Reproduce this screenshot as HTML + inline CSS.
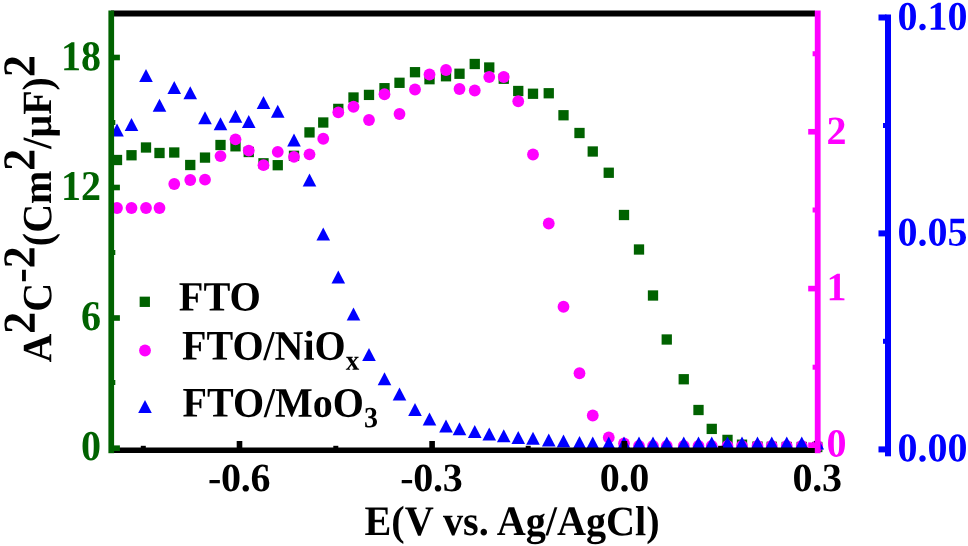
<!DOCTYPE html>
<html><head><meta charset="utf-8"><title>Mott-Schottky</title>
<style>
html,body{margin:0;padding:0;background:#fff;}
body{width:968px;height:546px;overflow:hidden;}
svg{display:block;font-family:"Liberation Serif",serif;font-weight:bold;}
svg{will-change:transform;}
text{text-rendering:geometricPrecision;}
</style></head><body>
<svg width="968" height="546" viewBox="0 0 968 546">
<rect width="968" height="546" fill="#fff"/>
<g fill="#006200"><rect x="111.85" y="154.85" width="10.3" height="10.3"/><rect x="126.35" y="150.10" width="10.3" height="10.3"/><rect x="140.85" y="142.35" width="10.3" height="10.3"/><rect x="154.35" y="147.85" width="10.3" height="10.3"/><rect x="169.10" y="147.35" width="10.3" height="10.3"/><rect x="185.10" y="159.85" width="10.3" height="10.3"/><rect x="199.85" y="152.45" width="10.3" height="10.3"/><rect x="215.35" y="139.85" width="10.3" height="10.3"/><rect x="230.35" y="141.15" width="10.3" height="10.3"/><rect x="243.60" y="146.85" width="10.3" height="10.3"/><rect x="258.35" y="158.15" width="10.3" height="10.3"/><rect x="272.60" y="160.05" width="10.3" height="10.3"/><rect x="288.85" y="150.65" width="10.3" height="10.3"/><rect x="304.35" y="127.25" width="10.3" height="10.3"/><rect x="318.10" y="117.35" width="10.3" height="10.3"/><rect x="333.15" y="103.75" width="10.3" height="10.3"/><rect x="348.35" y="92.35" width="10.3" height="10.3"/><rect x="363.85" y="89.75" width="10.3" height="10.3"/><rect x="379.35" y="83.05" width="10.3" height="10.3"/><rect x="394.35" y="77.65" width="10.3" height="10.3"/><rect x="409.85" y="67.05" width="10.3" height="10.3"/><rect x="424.35" y="74.05" width="10.3" height="10.3"/><rect x="440.85" y="71.10" width="10.3" height="10.3"/><rect x="454.35" y="68.60" width="10.3" height="10.3"/><rect x="469.60" y="58.85" width="10.3" height="10.3"/><rect x="484.10" y="62.35" width="10.3" height="10.3"/><rect x="498.60" y="73.60" width="10.3" height="10.3"/><rect x="513.10" y="85.85" width="10.3" height="10.3"/><rect x="527.85" y="88.60" width="10.3" height="10.3"/><rect x="543.60" y="88.10" width="10.3" height="10.3"/><rect x="558.35" y="110.10" width="10.3" height="10.3"/><rect x="574.35" y="127.85" width="10.3" height="10.3"/><rect x="587.60" y="146.35" width="10.3" height="10.3"/><rect x="603.60" y="167.60" width="10.3" height="10.3"/><rect x="618.85" y="209.85" width="10.3" height="10.3"/><rect x="633.85" y="244.35" width="10.3" height="10.3"/><rect x="647.85" y="290.35" width="10.3" height="10.3"/><rect x="661.60" y="334.35" width="10.3" height="10.3"/><rect x="678.60" y="374.10" width="10.3" height="10.3"/><rect x="693.35" y="404.85" width="10.3" height="10.3"/><rect x="706.60" y="423.75" width="10.3" height="10.3"/><rect x="722.35" y="434.75" width="10.3" height="10.3"/><rect x="736.85" y="439.55" width="10.3" height="10.3"/><rect x="752.35" y="441.45" width="10.3" height="10.3"/><rect x="766.60" y="441.65" width="10.3" height="10.3"/><rect x="781.60" y="441.85" width="10.3" height="10.3"/><rect x="796.60" y="441.85" width="10.3" height="10.3"/><rect x="812.10" y="441.85" width="10.3" height="10.3"/></g>
<g fill="#ff00ff"><circle cx="117" cy="208" r="5.9"/><circle cx="131.5" cy="208" r="5.9"/><circle cx="146" cy="208" r="5.9"/><circle cx="159.5" cy="208" r="5.9"/><circle cx="174.25" cy="184" r="5.9"/><circle cx="190.25" cy="180" r="5.9"/><circle cx="205" cy="179.7" r="5.9"/><circle cx="220.5" cy="156.1" r="5.9"/><circle cx="235.5" cy="139.3" r="5.9"/><circle cx="248.75" cy="150.6" r="5.9"/><circle cx="263.5" cy="165.2" r="5.9"/><circle cx="277.75" cy="151.8" r="5.9"/><circle cx="294" cy="156.8" r="5.9"/><circle cx="309.5" cy="154.3" r="5.9"/><circle cx="323.25" cy="138.75" r="5.9"/><circle cx="338.3" cy="112.3" r="5.9"/><circle cx="353.5" cy="106.75" r="5.9"/><circle cx="369" cy="120" r="5.9"/><circle cx="384.5" cy="94.25" r="5.9"/><circle cx="399.5" cy="114" r="5.9"/><circle cx="415" cy="89.5" r="5.9"/><circle cx="429.5" cy="74.5" r="5.9"/><circle cx="446" cy="70" r="5.9"/><circle cx="459.5" cy="89" r="5.9"/><circle cx="474.75" cy="90.5" r="5.9"/><circle cx="489.25" cy="77" r="5.9"/><circle cx="503.75" cy="77" r="5.9"/><circle cx="518.25" cy="101.25" r="5.9"/><circle cx="533" cy="154.5" r="5.9"/><circle cx="548.75" cy="223.5" r="5.9"/><circle cx="563.5" cy="306.75" r="5.9"/><circle cx="579.5" cy="373.25" r="5.9"/><circle cx="592.75" cy="415.5" r="5.9"/><circle cx="608.75" cy="437.5" r="5.9"/><circle cx="624" cy="443.5" r="5.9"/><circle cx="639" cy="446" r="5.9"/><circle cx="653" cy="446" r="5.9"/><circle cx="666.75" cy="446" r="5.9"/><circle cx="683.75" cy="446" r="5.9"/><circle cx="698.5" cy="446" r="5.9"/><circle cx="711.75" cy="446" r="5.9"/><circle cx="727.5" cy="446" r="5.9"/><circle cx="742" cy="446" r="5.9"/><circle cx="757.5" cy="446" r="5.9"/><circle cx="771.75" cy="446" r="5.9"/><circle cx="786.75" cy="446" r="5.9"/><circle cx="801.75" cy="446" r="5.9"/><circle cx="817.25" cy="446" r="5.9"/></g>
<g fill="#0000ff"><path d="M110.20 136.60L123.80 136.60L117.00 123.60Z"/><path d="M124.70 131.10L138.30 131.10L131.50 118.10Z"/><path d="M139.20 82.10L152.80 82.10L146.00 69.10Z"/><path d="M152.70 111.85L166.30 111.85L159.50 98.85Z"/><path d="M167.45 94.10L181.05 94.10L174.25 81.10Z"/><path d="M183.45 99.35L197.05 99.35L190.25 86.35Z"/><path d="M198.20 124.35L211.80 124.35L205.00 111.35Z"/><path d="M213.70 130.35L227.30 130.35L220.50 117.35Z"/><path d="M228.70 122.85L242.30 122.85L235.50 109.85Z"/><path d="M241.95 128.10L255.55 128.10L248.75 115.10Z"/><path d="M256.70 109.10L270.30 109.10L263.50 96.10Z"/><path d="M270.95 117.85L284.55 117.85L277.75 104.85Z"/><path d="M287.20 146.40L300.80 146.40L294.00 133.40Z"/><path d="M302.70 186.60L316.30 186.60L309.50 173.60Z"/><path d="M316.45 240.40L330.05 240.40L323.25 227.40Z"/><path d="M331.50 283.60L345.10 283.60L338.30 270.60Z"/><path d="M346.70 320.60L360.30 320.60L353.50 307.60Z"/><path d="M362.20 361.10L375.80 361.10L369.00 348.10Z"/><path d="M377.70 385.35L391.30 385.35L384.50 372.35Z"/><path d="M392.70 400.60L406.30 400.60L399.50 387.60Z"/><path d="M408.20 416.10L421.80 416.10L415.00 403.10Z"/><path d="M422.70 425.60L436.30 425.60L429.50 412.60Z"/><path d="M439.20 432.60L452.80 432.60L446.00 419.60Z"/><path d="M452.70 435.35L466.30 435.35L459.50 422.35Z"/><path d="M467.95 438.10L481.55 438.10L474.75 425.10Z"/><path d="M482.45 440.60L496.05 440.60L489.25 427.60Z"/><path d="M496.95 442.35L510.55 442.35L503.75 429.35Z"/><path d="M511.45 444.10L525.05 444.10L518.25 431.10Z"/><path d="M526.20 444.85L539.80 444.85L533.00 431.85Z"/><path d="M541.95 446.60L555.55 446.60L548.75 433.60Z"/><path d="M556.70 447.60L570.30 447.60L563.50 434.60Z"/><path d="M572.70 449.10L586.30 449.10L579.50 436.10Z"/><path d="M585.95 449.60L599.55 449.60L592.75 436.60Z"/><path d="M601.95 449.60L615.55 449.60L608.75 436.60Z"/><path d="M617.20 449.60L630.80 449.60L624.00 436.60Z"/><path d="M632.20 449.60L645.80 449.60L639.00 436.60Z"/><path d="M646.20 449.60L659.80 449.60L653.00 436.60Z"/><path d="M659.95 449.60L673.55 449.60L666.75 436.60Z"/><path d="M676.95 449.60L690.55 449.60L683.75 436.60Z"/><path d="M691.70 449.60L705.30 449.60L698.50 436.60Z"/><path d="M704.95 449.60L718.55 449.60L711.75 436.60Z"/><path d="M720.70 449.60L734.30 449.60L727.50 436.60Z"/><path d="M735.20 449.60L748.80 449.60L742.00 436.60Z"/><path d="M750.70 449.60L764.30 449.60L757.50 436.60Z"/><path d="M764.95 449.60L778.55 449.60L771.75 436.60Z"/><path d="M779.95 449.60L793.55 449.60L786.75 436.60Z"/><path d="M794.95 449.60L808.55 449.60L801.75 436.60Z"/><path d="M810.45 449.60L824.05 449.60L817.25 436.60Z"/></g>
<g fill="#006200"><rect x="139.65" y="296.65" width="10.3" height="10.3"/></g><g fill="#ff00ff"><circle cx="145" cy="350.5" r="5.9"/></g><g fill="#0000ff"><path d="M138.20 413.10L151.80 413.10L145.00 400.10Z"/></g>
<g fill="#000">
<text transform="translate(178.8,310.5) rotate(0.03) scale(1,1.035)" font-size="40.3">FTO</text>
<text transform="translate(182,359.6) rotate(0.03) scale(1,1.05)" font-size="40">FTO/NiO<tspan font-size="27" dy="9.5">x</tspan></text>
<text transform="translate(182.5,416.6) rotate(0.03) scale(1,1.05)" font-size="40">FTO/MoO<tspan font-size="28" dy="10">3</tspan></text>
</g>
<g fill="#000">
<rect x="111" y="10.5" width="704" height="6"/>
<rect x="111" y="447.5" width="709" height="5.5"/>
<rect x="236.7" y="441" width="5.6" height="7"/>
<rect x="429.3" y="441" width="5.6" height="7"/>
<rect x="621.6" y="441" width="5.6" height="7"/>
<rect x="814.2" y="441" width="5.6" height="7"/>
<rect x="140.8" y="445.8" width="5" height="2.5"/>
<rect x="333.3" y="445.8" width="5" height="2.5"/>
<rect x="525.7" y="445.8" width="5" height="2.5"/>
<rect x="718.1" y="445.8" width="5" height="2.5"/>
</g>
<g fill="#006200">
<rect x="108.4" y="10.5" width="5.7" height="442.7"/>
<rect x="111" y="54.7" width="8.9" height="5.6"/>
<rect x="111" y="184.7" width="8.9" height="5.6"/>
<rect x="111" y="315.2" width="8.9" height="5.6"/>
<rect x="111" y="445.4" width="8.9" height="5.6"/>
<rect x="111" y="120.0" width="4.3" height="5"/>
<rect x="111" y="250.0" width="4.3" height="5"/>
<rect x="111" y="380.0" width="4.3" height="5"/>
</g>
<g fill="#ff00ff">
<rect x="814.8" y="10.5" width="5.8" height="442.7"/>
<rect x="808.2" y="128.95" width="8" height="5.6"/>
<rect x="808.2" y="285.8" width="8" height="5.6"/>
<rect x="808.2" y="442.4" width="8" height="5.6"/>
<rect x="812.6" y="51.25" width="4" height="5"/>
<rect x="812.6" y="207.5" width="4" height="5"/>
<rect x="812.6" y="364.7" width="4" height="5"/>
</g>
<g fill="#0000ff">
<rect x="885" y="14.5" width="6" height="441.8"/>
<rect x="878.5" y="14.5" width="8" height="6"/>
<rect x="878.5" y="230.4" width="8" height="6"/>
<rect x="878.5" y="446.4" width="8" height="6"/>
<rect x="883" y="123.0" width="4" height="5"/>
<rect x="883" y="338.8" width="4" height="5"/>
</g>
<g fill="#006200">
<text transform="translate(101,70.3) rotate(0.03) scale(1,1.06)" font-size="40" text-anchor="end">18</text>
<text transform="translate(101,200.1) rotate(0.03) scale(1,1.06)" font-size="40" text-anchor="end">12</text>
<text transform="translate(101,330.0) rotate(0.03) scale(1,1.06)" font-size="40" text-anchor="end">6</text>
<text transform="translate(101,460.0) rotate(0.03) scale(1,1.06)" font-size="40" text-anchor="end">0</text>
</g>
<g fill="#000">
<text transform="translate(239.2,490.9) rotate(0.03) scale(1,1.0)" font-size="40" text-anchor="middle" letter-spacing="-0.25">-0.6</text>
<text transform="translate(431.4,490.9) rotate(0.03) scale(1,1.0)" font-size="40" text-anchor="middle" letter-spacing="-0.25">-0.3</text>
<text transform="translate(624.4,490.9) rotate(0.03) scale(1,1.0)" font-size="40" text-anchor="middle" letter-spacing="-0.25">0.0</text>
<text transform="translate(817.2,490.9) rotate(0.03) scale(1,1.0)" font-size="40" text-anchor="middle" letter-spacing="-0.25">0.3</text>
</g>
<g fill="#ff00ff">
<text transform="translate(826.5,143.9) rotate(0.03) scale(1,1.0)" font-size="40">2</text>
<text transform="translate(826.5,300.2) rotate(0.03) scale(1,1.0)" font-size="40">1</text>
<text transform="translate(826.5,456.6) rotate(0.03) scale(1,1.0)" font-size="40">0</text>
</g>
<g fill="#0000ff">
<text transform="translate(897.5,29.8) rotate(0.03) scale(1,1.02)" font-size="40">0.10</text>
<text transform="translate(897.5,245.4) rotate(0.03) scale(1,1.02)" font-size="40">0.05</text>
<text transform="translate(897.5,461.2) rotate(0.03) scale(1,1.02)" font-size="40">0.00</text>
</g>
<g fill="#000">
<text transform="translate(364.5,535.0) rotate(0.03) scale(1,1.045)" font-size="40.2">E(V vs. Ag/AgCl)</text>
<text transform="translate(51.2,362.6) rotate(-90.03) scale(1,1.04)" font-size="40">A<tspan font-size="44" dy="-15.9">2</tspan><tspan dy="15.9">C</tspan><tspan font-size="44" dy="-15.9">-2</tspan><tspan dy="15.9">(Cm</tspan><tspan font-size="44" dy="-15.9">2</tspan><tspan dy="15.9">/μF)</tspan><tspan font-size="44" dy="-15.9">2</tspan></text>
</g>
</svg></body></html>
